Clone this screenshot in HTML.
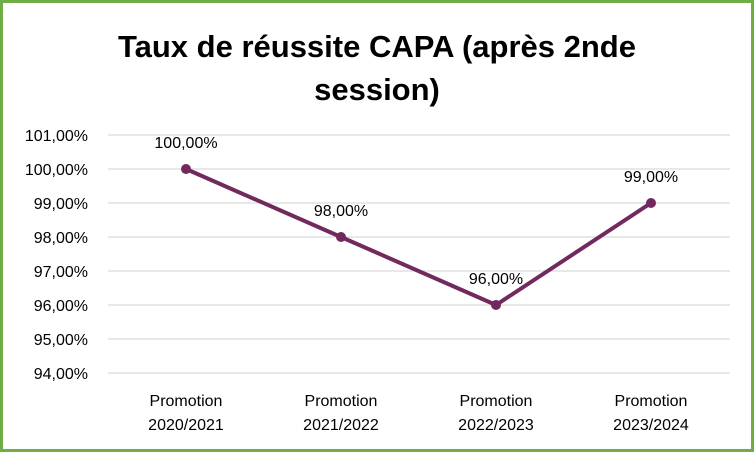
<!DOCTYPE html>
<html><head><style>
html,body{margin:0;padding:0;background:#fff}
.c{position:absolute;left:0;top:0;width:754px;height:452px;box-sizing:border-box;border:3px solid #70ad47;background:#fff}
</style></head><body>
<div class="c"></div>
<svg width="754" height="452" style="position:absolute;left:0;top:0" font-family="'Liberation Sans',sans-serif">
<text x="377" y="57" text-anchor="middle" font-size="31" font-weight="bold" fill="#000">Taux de réussite CAPA (après 2nde</text>
<text x="377" y="100" text-anchor="middle" font-size="31" font-weight="bold" fill="#000">session)</text>
<g stroke="#d9d9d9" stroke-width="1.3">
<line x1="108" x2="730" y1="135" y2="135"/><line x1="108" x2="730" y1="169" y2="169"/>
<line x1="108" x2="730" y1="203" y2="203"/><line x1="108" x2="730" y1="237" y2="237"/>
<line x1="108" x2="730" y1="271" y2="271"/><line x1="108" x2="730" y1="305" y2="305"/>
<line x1="108" x2="730" y1="339" y2="339"/><line x1="108" x2="730" y1="373" y2="373"/>
</g>
<g font-size="16" fill="#000" text-anchor="end">
<text x="88" y="141">101,00%</text><text x="88" y="175">100,00%</text>
<text x="88" y="209">99,00%</text><text x="88" y="243">98,00%</text>
<text x="88" y="277">97,00%</text><text x="88" y="311">96,00%</text>
<text x="88" y="345">95,00%</text><text x="88" y="379">94,00%</text>
</g>
<polyline points="186,169 341,237 496,305 651,203" fill="none" stroke="#722a5e" stroke-width="4" stroke-linejoin="round"/>
<g fill="#722a5e"><circle cx="186" cy="169" r="5"/><circle cx="341" cy="237" r="5"/><circle cx="496" cy="305" r="5"/><circle cx="651" cy="203" r="5"/></g>
<g font-size="16" fill="#000" text-anchor="middle">
<text x="186" y="148">100,00%</text><text x="341" y="216">98,00%</text>
<text x="496" y="284">96,00%</text><text x="651" y="182">99,00%</text>
<text x="186" y="406">Promotion</text><text x="186" y="430">2020/2021</text>
<text x="341" y="406">Promotion</text><text x="341" y="430">2021/2022</text>
<text x="496" y="406">Promotion</text><text x="496" y="430">2022/2023</text>
<text x="651" y="406">Promotion</text><text x="651" y="430">2023/2024</text>
</g>
</svg>
</body></html>
